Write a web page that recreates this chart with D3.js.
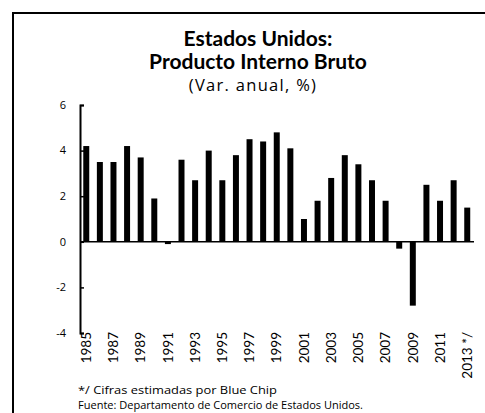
<!DOCTYPE html>
<html>
<head>
<meta charset="utf-8">
<script src="https://cdn.jsdelivr.net/npm/d3@7"></script>
<style>
  body { margin: 0; background: #fff; }
  svg { display: block; font-family: "Open Sans", Lato, sans-serif; }
</style>
</head>
<body>
<div id="chart"></div>
<script>
// PIB de Estados Unidos, variacion anual (%)
var years = ["1985","1986","1987","1988","1989","1990","1991","1992","1993","1994",
  "1995","1996","1997","1998","1999","2000","2001","2002","2003","2004",
  "2005","2006","2007","2008","2009","2010","2011","2012","2013"];
var growth = [4.2, 3.5, 3.5, 4.2, 3.7, 1.9, -0.1, 3.6, 2.7, 4.0,
  2.7, 3.8, 4.5, 4.4, 4.8, 4.1, 1.0, 1.8, 2.8, 3.8,
  3.4, 2.7, 1.8, -0.3, -2.8, 2.5, 1.8, 2.7, 1.5];
var yTicks = [-4, -2, 0, 2, 4, 6];
var titleLines = ["Estados Unidos:", "Producto Interno Bruto"];
var subtitle = "(Var. anual, %)";
var notes = ["*/ Cifras estimadas por Blue Chip", "Fuente: Departamento de Comercio de Estados Unidos."];

var svgWidth = 485;
var svgHeight = 413;

var svg = d3.select("#chart")
  .append("svg")
  .attr("width", svgWidth)
  .attr("height", svgHeight);

// marco (solo arriba e izquierda visibles)
svg.append("line")
  .attr("x1", 13).attr("x2", 485).attr("y1", 13).attr("y2", 13)
  .attr("stroke", "black").attr("stroke-width", 2);
svg.append("line")
  .attr("x1", 13).attr("x2", 13).attr("y1", 12).attr("y2", 413)
  .attr("stroke", "black").attr("stroke-width", 2);

// titulos
var titleY = [46, 69];
titleLines.forEach(function(t, i) {
  svg.append("text")
    .attr("x", 258).attr("y", titleY[i])
    .attr("text-anchor", "middle")
    .attr("font-family", "Lato, sans-serif")
    .attr("font-size", "21px")
    .attr("font-weight", "bold")
    .text(t);
});
svg.append("text")
  .attr("x", 253).attr("y", 90.5)
  .attr("text-anchor", "middle")
  .attr("font-size", "16.5px")
  .attr("letter-spacing", "1.3px")
  .text(subtitle);

// escalas
var xScale = d3.scaleBand()
  .domain(years)
  .range([80, 473.5])
  .paddingInner(0.56)
  .paddingOuter(0.24);

var yScale = d3.scaleLinear()
  .domain([-4, 6])
  .range([333, 105]);

// barras
svg.selectAll(".bar")
  .data(growth)
  .enter()
  .append("rect")
  .attr("class", "bar")
  .attr("x", (d, i) => xScale(years[i]))
  .attr("width", xScale.bandwidth())
  .attr("y", d => yScale(Math.max(0, d)))
  .attr("height", d => Math.abs(yScale(d) - yScale(0)))
  .attr("fill", "black");

// linea de cero
svg.append("line")
  .attr("x1", 80).attr("x2", 474)
  .attr("y1", yScale(0)).attr("y2", yScale(0))
  .attr("stroke", "black").attr("stroke-width", 1.5);

// eje y
var yAxis = d3.axisRight(yScale)
  .tickValues(yTicks)
  .tickSize(4)
  .tickFormat("");
var yG = svg.append("g")
  .attr("transform", "translate(80,0)")
  .call(yAxis);
yG.select(".domain").attr("stroke-width", 2);
yG.selectAll(".tick line").attr("stroke-width", 1.5);

svg.selectAll(".ylab")
  .data(yTicks)
  .enter()
  .append("text")
  .attr("class", "ylab")
  .attr("x", 66)
  .attr("y", d => yScale(d))
  .attr("dy", "0.35em")
  .attr("text-anchor", "end")
  .attr("font-size", "11px")
  .text(d => d);

// etiquetas del eje x (anos impares)
var labelYears = years.filter((y, i) => i % 2 === 0);
svg.selectAll(".xlab")
  .data(labelYears)
  .enter()
  .append("text")
  .attr("class", "xlab")
  .attr("transform", d => "translate(" + (xScale(d) + xScale.bandwidth() / 2) + ",332) rotate(-90)")
  .attr("dy", "0.35em")
  .attr("text-anchor", "end")
  .attr("font-family", "Lato, sans-serif")
  .attr("font-size", "13.5px")
  .text(d => d === "2013" ? "2013 */" : d);

// notas
var noteY = [394, 409];
var noteW = [199, 285];
notes.forEach(function(t, i) {
  svg.append("text")
    .attr("x", 78).attr("y", noteY[i])
    .attr("font-size", "11px")
    .attr("textLength", noteW[i])
    .attr("lengthAdjust", "spacingAndGlyphs")
    .text(t);
});
</script>
</body>
</html>
